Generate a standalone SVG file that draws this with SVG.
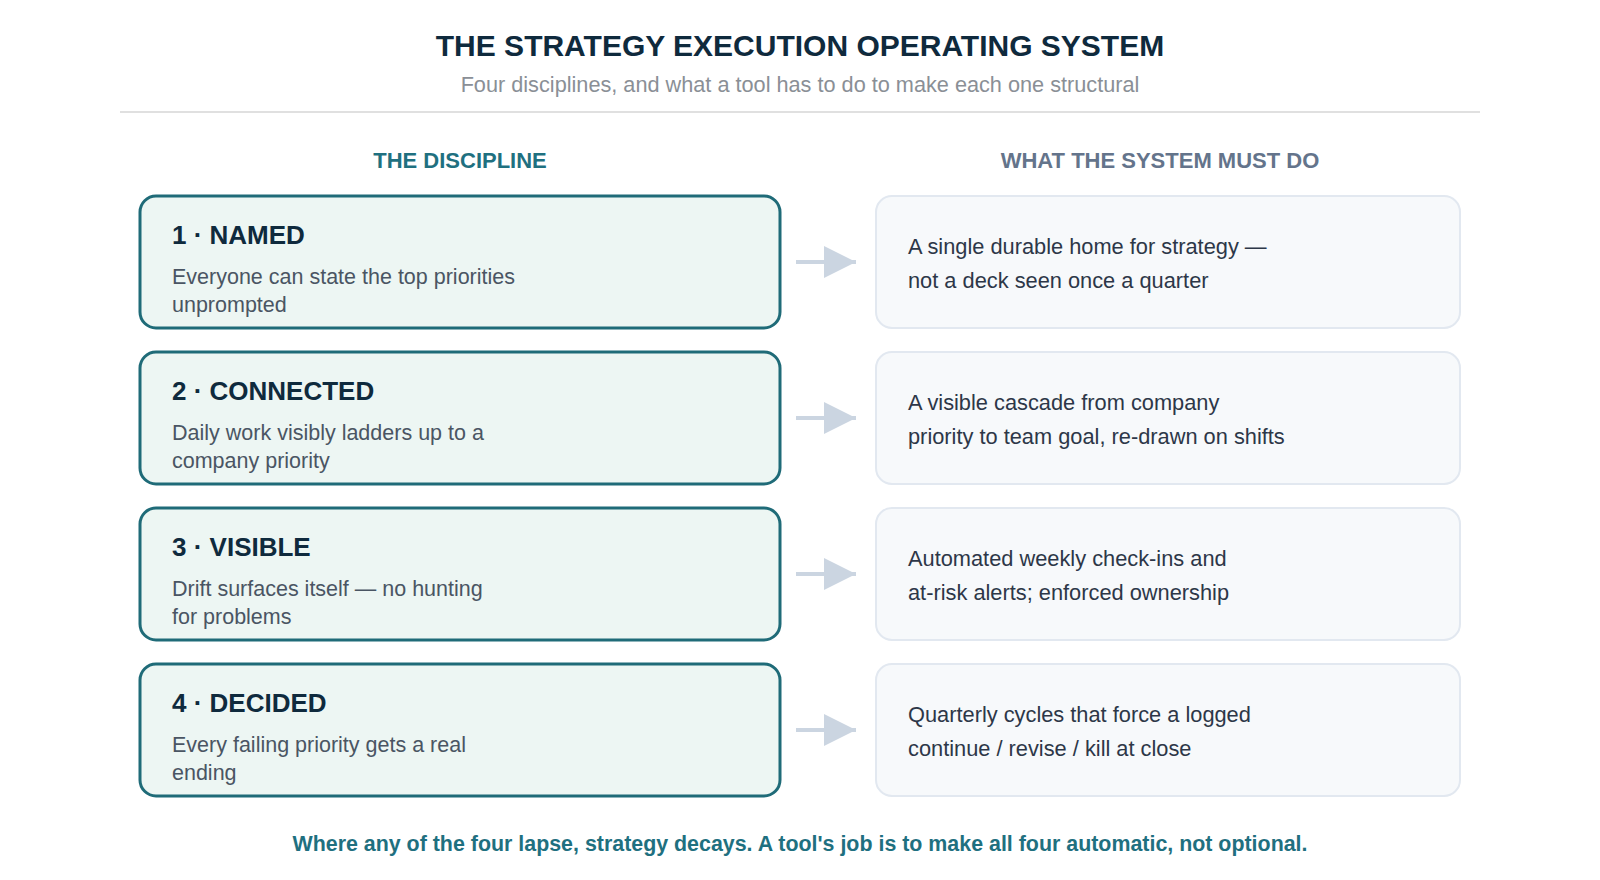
<svg xmlns="http://www.w3.org/2000/svg" width="1600" height="880" viewBox="0 0 1600 880">
<defs>
<style>
.title{font-family:"Liberation Sans",Arial,sans-serif;font-size:30px;font-weight:bold;fill:#0f2a3d;text-anchor:middle}
.sub{font-family:"Liberation Sans",Arial,sans-serif;font-size:21.7px;fill:#8a8f96;text-anchor:middle}
.hdl{font-family:"Liberation Sans",Arial,sans-serif;font-size:22px;font-weight:bold;fill:#1f7080;text-anchor:middle}
.hdr{font-family:"Liberation Sans",Arial,sans-serif;font-size:22px;font-weight:bold;fill:#64748b;text-anchor:middle}
.lbox{fill:#edf6f3;stroke:#1f6b78;stroke-width:3}
.rbox{fill:#f7f9fb;stroke:#e2e8f0;stroke-width:2}
.ltitle{font-family:"Liberation Sans",Arial,sans-serif;font-size:26px;font-weight:bold;fill:#0f2a3d}
.ldesc{font-family:"Liberation Sans",Arial,sans-serif;font-size:21.5px;fill:#4a5563}
.rtext{font-family:"Liberation Sans",Arial,sans-serif;font-size:21.8px;fill:#2d3748}
.foot{font-family:"Liberation Sans",Arial,sans-serif;font-size:21.4px;font-weight:bold;fill:#1f7080;text-anchor:middle}
.conn{stroke:#cbd5e1;stroke-width:4;fill:none}
</style>
<marker id="ah" markerUnits="userSpaceOnUse" markerWidth="32" markerHeight="32" refX="32" refY="16" orient="auto">
<path d="M0,0 L32,16 L0,32 Z" fill="#cbd5e1"/>
</marker>
</defs>
<rect width="1600" height="880" fill="#ffffff"/>
<g id="header">
<text class="title" x="800" y="56">THE STRATEGY EXECUTION OPERATING SYSTEM</text>
<text class="sub" x="800" y="92">Four disciplines, and what a tool has to do to make each one structural</text>
<line x1="120" y1="112" x2="1480" y2="112" stroke="#e0e0e0" stroke-width="2"/>
<text class="hdl" x="460" y="168">THE DISCIPLINE</text>
<text class="hdr" x="1160" y="168">WHAT THE SYSTEM MUST DO</text>
</g>
<g id="connectors">
<line class="conn" x1="796" y1="262" x2="856" y2="262" marker-end="url(#ah)"/>
<line class="conn" x1="796" y1="418" x2="856" y2="418" marker-end="url(#ah)"/>
<line class="conn" x1="796" y1="574" x2="856" y2="574" marker-end="url(#ah)"/>
<line class="conn" x1="796" y1="730" x2="856" y2="730" marker-end="url(#ah)"/>
</g>
<g id="named">
<rect class="lbox" x="140" y="196" width="640" height="132" rx="16"/>
<text class="ltitle" x="172" y="244">1 · NAMED</text>
<text class="ldesc" x="172" y="284">Everyone can state the top priorities</text>
<text class="ldesc" x="172" y="312">unprompted</text>
</g>
<g id="named-do">
<rect class="rbox" x="876" y="196" width="584" height="132" rx="16"/>
<text class="rtext" x="908" y="254">A single durable home for strategy —</text>
<text class="rtext" x="908" y="288">not a deck seen once a quarter</text>
</g>
<g id="connected">
<rect class="lbox" x="140" y="352" width="640" height="132" rx="16"/>
<text class="ltitle" x="172" y="400">2 · CONNECTED</text>
<text class="ldesc" x="172" y="440">Daily work visibly ladders up to a</text>
<text class="ldesc" x="172" y="468">company priority</text>
</g>
<g id="connected-do">
<rect class="rbox" x="876" y="352" width="584" height="132" rx="16"/>
<text class="rtext" x="908" y="410">A visible cascade from company</text>
<text class="rtext" x="908" y="444">priority to team goal, re-drawn on shifts</text>
</g>
<g id="visible">
<rect class="lbox" x="140" y="508" width="640" height="132" rx="16"/>
<text class="ltitle" x="172" y="556">3 · VISIBLE</text>
<text class="ldesc" x="172" y="596">Drift surfaces itself — no hunting</text>
<text class="ldesc" x="172" y="624">for problems</text>
</g>
<g id="visible-do">
<rect class="rbox" x="876" y="508" width="584" height="132" rx="16"/>
<text class="rtext" x="908" y="566">Automated weekly check-ins and</text>
<text class="rtext" x="908" y="600">at-risk alerts; enforced ownership</text>
</g>
<g id="decided">
<rect class="lbox" x="140" y="664" width="640" height="132" rx="16"/>
<text class="ltitle" x="172" y="712">4 · DECIDED</text>
<text class="ldesc" x="172" y="752">Every failing priority gets a real</text>
<text class="ldesc" x="172" y="780">ending</text>
</g>
<g id="decided-do">
<rect class="rbox" x="876" y="664" width="584" height="132" rx="16"/>
<text class="rtext" x="908" y="722">Quarterly cycles that force a logged</text>
<text class="rtext" x="908" y="756">continue / revise / kill at close</text>
</g>
<g id="footer">
<text class="foot" x="800" y="851">Where any of the four lapse, strategy decays. A tool's job is to make all four automatic, not optional.</text>
</g>
</svg>
